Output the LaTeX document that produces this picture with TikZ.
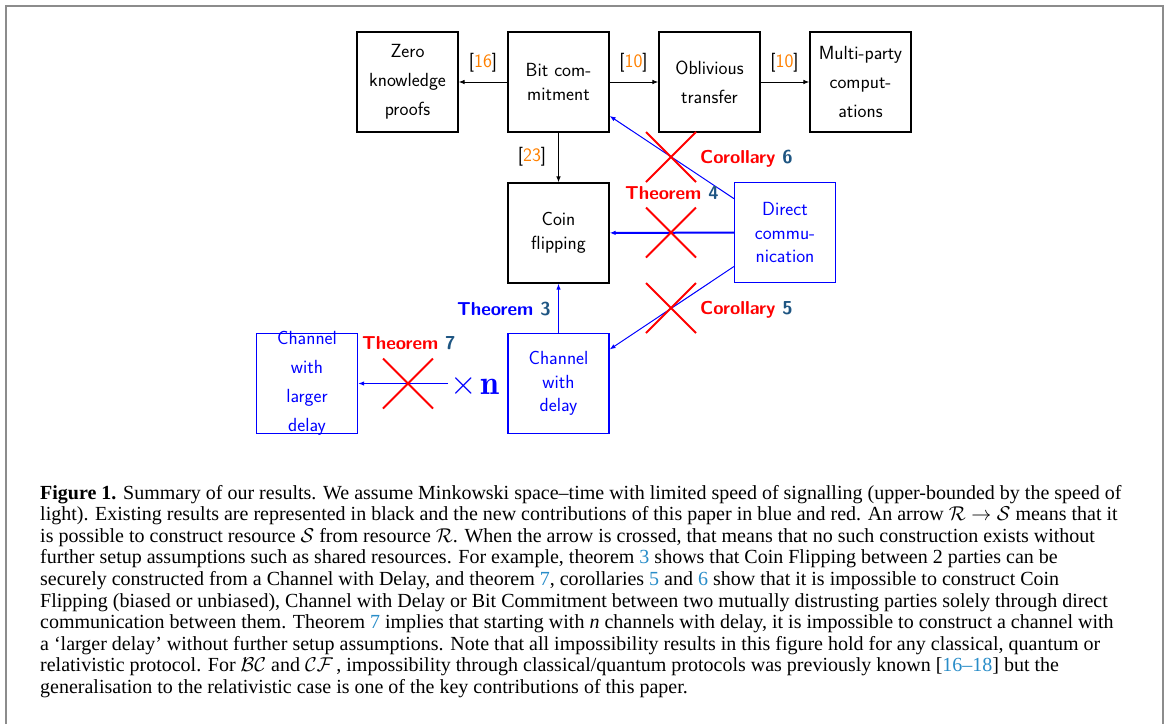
\RequirePackage{fix-cm}
\documentclass[tikz,border=0pt]{standalone}
\usepackage{fontspec}
\newfontfamily\capfont{Liberation Serif}
\usetikzlibrary{arrows.meta}
\definecolor{citeorange}{RGB}{255,128,0}
\definecolor{numteal}{RGB}{30,85,130}
\definecolor{linkblue}{RGB}{40,140,200}
\definecolor{framegray}{RGB}{140,140,140}

\begin{document}
\begin{tikzpicture}[x=1pt,y=-1pt,
  every node/.style={inner sep=0pt},
  blackbox/.style={draw=black, line width=1.2pt, minimum width=101pt, minimum height=100pt},
  bluebox/.style={draw=blue, line width=1.2pt, minimum width=101pt, minimum height=100pt, text=blue},
  loose/.style={font=\sffamily\fontsize{19}{29}\selectfont, align=center},
  tight/.style={font=\sffamily\fontsize{19}{23.5}\selectfont, align=center},
  cite/.style={font=\sffamily\fontsize{19}{23}\selectfont},
  res/.style={font=\sffamily\bfseries\fontsize{18.7}{22}\selectfont, anchor=base west},
  blk/.style={-{Latex[length=6pt,width=4.5pt]}, line width=0.9pt, black},
  blu/.style={-{Latex[length=6pt,width=4.5pt]}, line width=1pt, blue},
  cross/.style={red, line width=1.8pt},
  captext/.style={font=\capfont\fontsize{20}{21.6}\selectfont, align=left, anchor=base west},
]
\useasboundingbox (0,0) rectangle (1168,724);

% frame around the figure
\draw[framegray, line width=2pt] (5.5,724) -- (5.5,5.5) -- (1162.5,5.5) -- (1162.5,724);

% existing primitives (black)
\node[blackbox, loose] (zk) at (407.5,82) {Zero\\knowledge\\proofs};
\node[blackbox, tight] (bc) at (558.5,82) {Bit com-\\mitment};
\node[blackbox, loose] (ot) at (709.5,82) {Oblivious\\transfer};
\node[blackbox, loose] (mp) at (860.5,82) {Multi-party\\comput-\\ations};
\node[blackbox, tight] (cf) at (558.5,233) {Coin\\flipping};

% new resources (blue)
\node[bluebox, tight] (dc) at (785,232.5) {Direct\\commu-\\nication};
\node[bluebox, tight] (cwd) at (558.5,383.5) {Channel\\with\\delay};
\node[bluebox] (cld) at (307,383.5) {};
\node[loose, text=blue] (cldtext) at (cld.center) {Channel\\with\\larger\\delay};

% known constructions
\draw[blk] (bc) -- (zk);
\draw[blk] (bc) -- (ot);
\draw[blk] (ot) -- (mp);
\draw[blk] (bc) -- (cf);
\node[cite] (r16) at (483,63) {[\textcolor{citeorange}{16}]};
\node[cite] (r10a) at (633.5,63) {[\textcolor{citeorange}{10}]};
\node[cite] (r10b) at (784.5,63) {[\textcolor{citeorange}{10}]};
\node[cite] (r23) at (532,157) {[\textcolor{citeorange}{23}]};

% new constructions and impossibilities
\draw[blu] (dc) -- (bc);
\draw[blu, line width=2pt] (dc) -- (cf);
\draw[blu] (dc) -- (cwd);
\draw[blu, line width=1.4pt] (cwd) -- (cf);
\node[font=\fontsize{34}{34}\selectfont, text=blue, anchor=base west] (xn) at (450,394.5) {$\times\mkern2mu\mathbf{n}$};
\coordinate (xnend) at (448,383.5);
\draw[blu, line width=1.4pt] (xnend) -- (cld);

% crossed-out constructions
\coordinate (x6) at (671,157);
\coordinate (x4) at (671,232.5);
\coordinate (x5) at (671,308);
\coordinate (x7) at (408,383.5);
\foreach \c in {x6,x4,x5,x7}
  \draw[cross] (\c) ++(-25,-25) -- ++(50,50) ++(0,-50) -- ++(-50,50);

% result labels
\node[res] (cor6) at (700,163) {\textcolor{red}{Corollary} \textcolor{numteal}{6}};
\node[res] (thm4) at (625,199) {\textcolor{red}{Theorem} \textcolor{numteal}{4}};
\node[res] (cor5) at (700,314) {\textcolor{red}{Corollary} \textcolor{numteal}{5}};
\node[res] (thm3) at (457,315) {\textcolor{blue}{Theorem} \textcolor{numteal}{3}};
\node[res] (thm7) at (362,349) {\textcolor{red}{Theorem} \textcolor{numteal}{7}};

% caption (base anchor sits on the last line)
\node[captext] (caption) at (40,693.4) {\textbf{Figure 1.} Summary of our results. We assume Minkowski space–time with limited speed of signalling (upper-bounded by the speed of\\
light). Existing results are represented in black and the new contributions of this paper in blue and red. An arrow $\mathcal{R} \rightarrow \mathcal{S}$ means that it\\
is possible to construct resource $\mathcal{S}$ from resource $\mathcal{R}$. When the arrow is crossed, that means that no such construction exists without\\
further setup assumptions such as shared resources. For example, theorem \textcolor{linkblue}{3} shows that Coin Flipping between 2 parties can be\\
securely constructed from a Channel with Delay, and theorem \textcolor{linkblue}{7}, corollaries \textcolor{linkblue}{5} and \textcolor{linkblue}{6} show that it is impossible to construct Coin\\
Flipping (biased or unbiased), Channel with Delay or Bit Commitment between two mutually distrusting parties solely through direct\\
communication between them. Theorem \textcolor{linkblue}{7} implies that starting with \textit{n} channels with delay, it is impossible to construct a channel with\\
a ‘larger delay’ without further setup assumptions. Note that all impossibility results in this figure hold for any classical, quantum or\\
relativistic protocol. For $\mathcal{BC}$ and $\mathcal{CF}$\,, impossibility through classical/quantum protocols was previously known [\textcolor{linkblue}{16–18}] but the\\
generalisation to the relativistic case is one of the key contributions of this paper.};
\end{tikzpicture}
\end{document}
